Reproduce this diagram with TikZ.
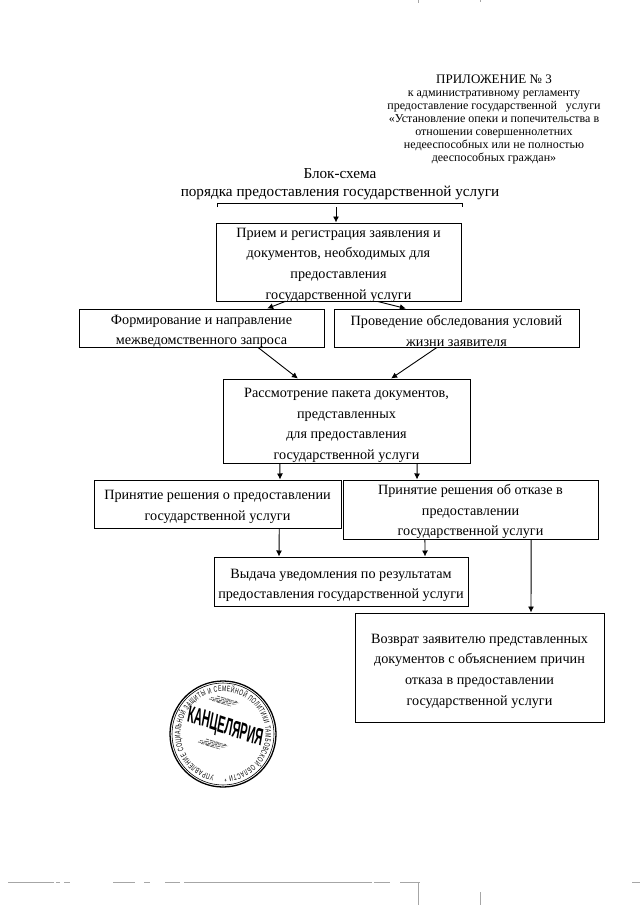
\documentclass[tikz,border=0pt]{standalone}
\usepackage{fontspec}
\setmainfont{Liberation Serif}
\newfontfamily\sealfont[FakeStretch=.62]{Liberation Sans}
\usetikzlibrary{arrows.meta,calc,decorations.text}
\newcommand{\lift}[1]{\rule{0pt}{#1pt}}

\begin{document}
\begin{tikzpicture}[x=1pt,y=-1pt,
stepbox/.style={draw,line width=1pt,align=center,inner xsep=0pt,inner ysep=-6pt,font=\fontsize{14.2}{20.6}\selectfont},
head/.style={align=center,inner sep=0pt,font=\fontsize{12}{12.9}\selectfont},
arr/.style={-{Latex[length=6pt,width=6pt]},line width=.9pt},
hatch/.style={gray!80!black,line width=.8pt,dash pattern=on 3pt off 1pt on 5pt off 1pt},
scan/.style={gray!70,line width=.8pt}]
\useasboundingbox (0,0) rectangle (640,905);
\node[head,font=\fontsize{13}{13}\selectfont] at (494,79.5)(annex){ПРИЛОЖЕНИЕ № 3};
\node[head] at (494,127.5)(reglament){к административному регламенту\\предоставление государственной \ \ услуги\\«Установление опеки и попечительства в\\отношении совершеннолетних\\недееспособных или не полностью\\дееспособных граждан»};
\node[align=center,inner sep=0pt,font=\fontsize{15.2}{18}\selectfont] at (340,184)(title){Блок-схема\\порядка предоставления государственной услуги};
\node[stepbox,minimum width=245pt,minimum height=78pt] at (338.5,262)(receive){\lift{15.4}Прием и регистрация заявления и\\документов, необходимых для\\предоставления\\государственной услуги};
\node[stepbox,minimum width=245pt,minimum height=38pt] at (201.5,328)(query){\lift{16.4}Формирование и направление\\межведомственного запроса};
\node[stepbox,minimum width=245pt,minimum height=38pt] at (456.5,328)(survey){\lift{16.4}Проведение обследования условий\\жизни заявителя};
\node[stepbox,minimum width=247pt,minimum height=84pt] at (346.5,421)(review){\lift{18.4}Рассмотрение пакета документов,\\представленных\\для предоставления\\государственной услуги};
\node[stepbox,minimum width=247pt,minimum height=48pt] at (217.5,504)(grant){\lift{15.4}Принятие решения о предоставлении\\государственной услуги};
\node[stepbox,minimum width=255pt,minimum height=59pt] at (470.5,509.5)(refuse){\lift{14.4}Принятие решения об отказе в\\предоставлении\\государственной услуги};
\node[stepbox,minimum width=254pt,minimum height=49pt] at (341,581.5)(notice){\lift{17.4}Выдача уведомления по результатам\\предоставления государственной услуги};
\node[stepbox,minimum width=249pt,minimum height=109pt] at (479.5,667.5)(giveback){\lift{16.4}Возврат заявителю представленных\\документов с объяснением причин\\отказа в предоставлении\\государственной услуги};
% bracket under the title
\coordinate (brl) at (217,207);\coordinate (brr) at (462,207);\coordinate (brm) at (336,207);
\draw[line width=.8pt](brl)--(217,203)--(462,203)--(brr);
\draw[arr](brm)--(receive.north -| brm);
\draw[arr]($(receive.south west)!.283!(receive.south east)$)--($(query.north west)!.767!(query.north east)$);
\draw[arr]($(receive.south west)!.66!(receive.south east)$)--($(survey.north west)!.294!(survey.north east)$);
\draw[arr]($(query.south west)!.73!(query.south east)$)--($(review.north west)!.304!(review.north east)$);
\draw[arr]($(survey.south west)!.42!(survey.south east)$)--($(review.north west)!.68!(review.north east)$);
\draw[arr]($(review.south west)!.231!(review.south east)$)--(grant.north -| 280,0);
\draw[arr]($(review.south west)!.785!(review.south east)$)--(refuse.north -| 417,0);
\draw[arr]($(grant.south west)!.749!(grant.south east)$)--(notice.north -| 279,0);
\draw[arr]($(refuse.south west)!.322!(refuse.south east)$)--(notice.north -| 425,0);
\draw[arr]($(refuse.south west)!.737!(refuse.south east)$)--(giveback.north -| 531,0);
% seal
\coordinate (seal) at (223,734);
\draw[line width=1.3pt](seal) circle[radius=53pt];
\draw[line width=.6pt](seal) circle[radius=51pt];
\begingroup\sealfont\fontsize{8}{9}\selectfont
\path[decorate,decoration={text along path,text align={fit to path},
text={УПРАВЛЕНИЕ СОЦИАЛЬНОЙ ЗАЩИТЫ И СЕМЕЙНОЙ ПОЛИТИКИ ТАМБОВСКОЙ ОБЛАСТИ *}}]
(seal)++(258:42.5pt) arc[start angle=258,end angle=-88,radius=42.5pt];
\endgroup
\node[font=\sealfont\bfseries\fontsize{24}{24}\selectfont,inner sep=0pt,xscale=.74,rotate=-14,transform shape] at (225,728)(office){КАНЦЕЛЯРИЯ};
\foreach \i/\l in {0/14,1.5/24,3/30,4.5/26,6/14}{
\draw[hatch]($(224,702)+(-\l/2*1pt,\i*1pt)$)--++(\l*1pt,-4pt);
\draw[hatch]($(213,745)+(-\l/2*1pt,\i*1pt)$)--++(\l*1pt,-4pt);}
% scan marks at the page edges
\draw[scan](8,882)--(54,882) (56,882)--(60,882) (64,882)--(70,882) (113,882)--(135,882) (144,882)--(150,882) (165,882)--(180,882) (184,882)--(372,882) (374,882)--(390,882) (400,882)--(420,882) (632,882)--(640,882);
\draw[scan](418,882)--(418,905) (480,892)--(480,905) (418,0)--(418,3) (480,0)--(480,2);
\end{tikzpicture}
\end{document}
